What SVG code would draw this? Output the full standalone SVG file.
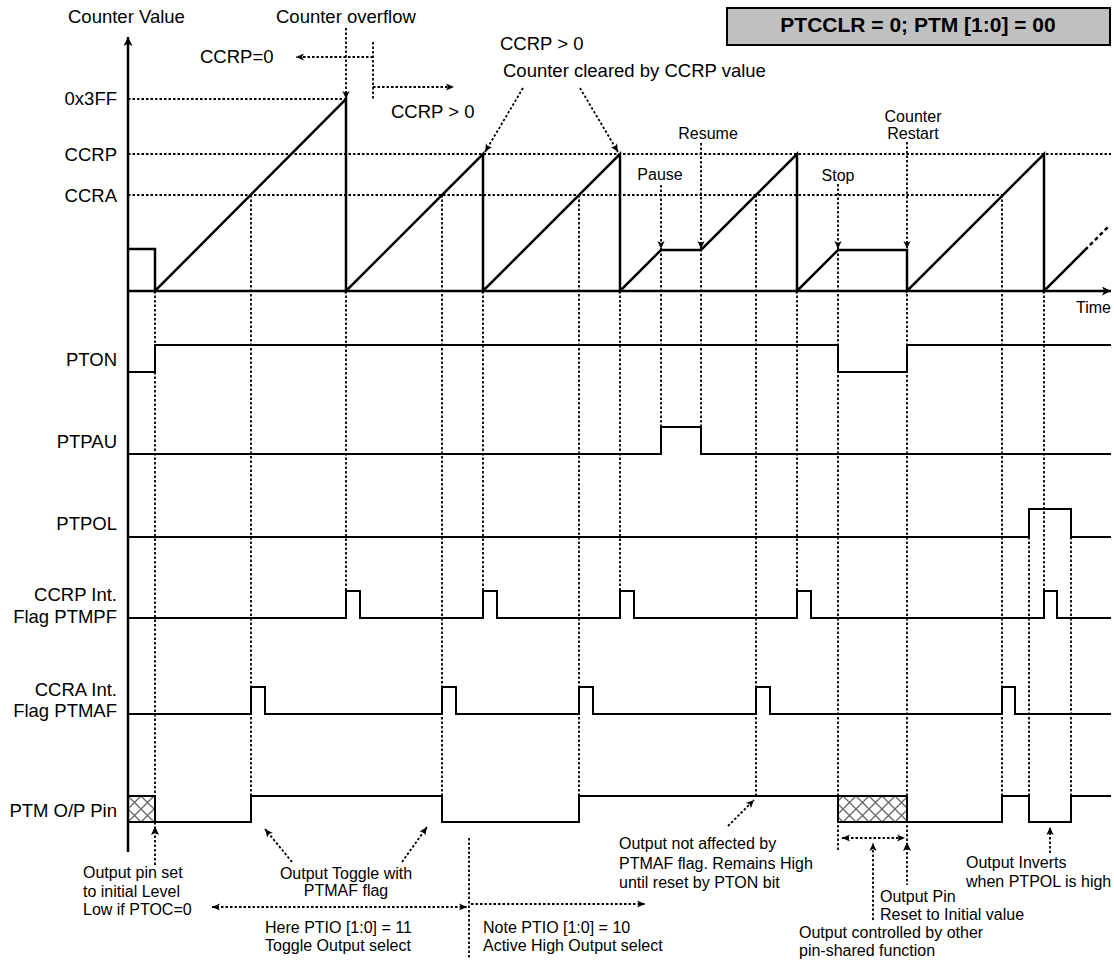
<svg xmlns="http://www.w3.org/2000/svg" width="1114" height="961" viewBox="0 0 1114 961">
<defs>
<style>
text{font-family:"Liberation Sans",Arial,sans-serif;fill:#000}
.l{font-size:18.5px}
.lr{font-size:18.5px;text-anchor:end}
.s{font-size:16px}
.sm{font-size:16px;text-anchor:middle}
.w{fill:none;stroke:#000;stroke-width:2.5;stroke-linejoin:miter}
.g{fill:none;stroke:#000;stroke-width:2}
.d{fill:none;stroke:#000;stroke-width:1.8;stroke-dasharray:2.5 2}
.da{fill:none;stroke:#000;stroke-width:1.8;stroke-dasharray:2.5 2;marker-end:url(#ah)}
.dd{fill:none;stroke:#000;stroke-width:1.8;stroke-dasharray:2.5 2;marker-start:url(#ahs);marker-end:url(#ah)}
.hatch{fill:url(#xh);stroke:#000;stroke-width:2}
</style>
<marker id="ah" viewBox="0 0 10 10" refX="10" refY="5" markerWidth="9" markerHeight="8" markerUnits="userSpaceOnUse" orient="auto"><path d="M0,0.5 L10,5 L0,9.5 L2.5,5 z" fill="#000"/></marker>
<marker id="ahs" viewBox="0 0 10 10" refX="0" refY="5" markerWidth="9" markerHeight="8" markerUnits="userSpaceOnUse" orient="auto"><path d="M10,0.5 L0,5 L10,9.5 L7.5,5 z" fill="#000"/></marker>
<marker id="ax" viewBox="0 0 10 10" refX="10" refY="5" markerWidth="12" markerHeight="9" markerUnits="userSpaceOnUse" orient="auto"><path d="M0,0 L10,5 L0,10 L2.5,5 z" fill="#000"/></marker>
<pattern id="xh" patternUnits="userSpaceOnUse" width="13" height="13" x="128" y="796"><path d="M0,0 L13,13 M13,0 L0,13" stroke="#666" stroke-width="1.3"/></pattern>
</defs>
<rect width="1114" height="961" fill="#fff"/>

<g id="mode-box">
<rect x="727" y="8" width="383" height="37" fill="#c0c0c0" stroke="#000" stroke-width="2"/>
<text x="918" y="32" style="font-size:21px;font-weight:bold;text-anchor:middle">PTCCLR = 0; PTM [1:0] = 00</text>
</g>

<g id="axes">
<line x1="128" y1="852" x2="128" y2="37" stroke="#000" stroke-width="2.5" marker-end="url(#ax)"/>
<line x1="128" y1="291" x2="1111" y2="291" stroke="#000" stroke-width="2.5" marker-end="url(#ax)"/>
<text class="l" x="68" y="23">Counter Value</text>
<text class="s" x="1111" y="313" style="text-anchor:end">Time</text>
<text class="lr" x="117" y="105">0x3FF</text>
<text class="lr" x="117" y="161">CCRP</text>
<text class="lr" x="117" y="202">CCRA</text>
</g>

<g id="counter">
<path class="w" d="M128,249 H155 V291 L346,99 V291 L483,154 V291 L620,154 V291 L661,250 H701 L797,154 V291 L838,250 H907 V291 L1044,154 V291 L1085,250"/>
<path d="M1085,250 L1109,226" fill="none" stroke="#000" stroke-width="2.5" stroke-dasharray="4 3"/>
</g>

<g id="sig-pton">
<text class="lr" x="117" y="366">PTON</text>
<path class="g" d="M128,372 H155 V345 H838 V372 H907 V345 H1111"/>
</g>
<g id="sig-ptpau">
<text class="lr" x="117" y="448">PTPAU</text>
<path class="g" d="M128,454 H661 V427 H701 V454 H1111"/>
</g>
<g id="sig-ptpol">
<text class="lr" x="117" y="530">PTPOL</text>
<path class="g" d="M128,537 H1029 V509 H1071 V537 H1111"/>
</g>
<g id="sig-ptmpf">
<text class="lr" x="117" y="601">CCRP Int.</text>
<text class="lr" x="117" y="623">Flag PTMPF</text>
<path class="g" d="M128,618 H346 V591 H360 V618 H483 V591 H497 V618 H620 V591 H634 V618 H797 V591 H811 V618 H1044 V591 H1057 V618 H1111"/>
</g>
<g id="sig-ptmaf">
<text class="lr" x="117" y="696">CCRA Int.</text>
<text class="lr" x="117" y="717">Flag PTMAF</text>
<path class="g" d="M128,714 H251 V687 H265 V714 H442 V687 H456 V714 H579 V687 H593 V714 H756 V687 H770 V714 H1002 V687 H1015 V714 H1111"/>
</g>
<g id="sig-ptm-pin">
<text class="lr" x="117" y="817">PTM O/P Pin</text>
<rect class="hatch" x="128" y="796" width="27" height="26"/>
<path class="g" d="M155,822 H251 V796 H442 V822 H579 V796 H838"/>
<rect class="hatch" x="838" y="796" width="69" height="26"/>
<path class="g" d="M907,822 H1002 V796 H1029 V822 H1071 V796 H1111"/>
</g>

<g id="connectors">
<line class="d" x1="128" y1="99" x2="346" y2="99"/>
<line class="d" x1="128" y1="154" x2="1111" y2="154"/>
<line class="d" x1="128" y1="195" x2="1002" y2="195"/>
<line class="da" x1="346" y1="28" x2="346" y2="99"/>
<line class="da" x1="373" y1="57" x2="296" y2="57"/>
<line class="d" x1="373" y1="42" x2="373" y2="100"/>
<line class="da" x1="373" y1="87" x2="454" y2="87"/>
<line class="da" x1="523" y1="88" x2="485" y2="152"/>
<line class="da" x1="580" y1="88" x2="618" y2="152"/>
<line class="da" x1="661" y1="185" x2="661" y2="249"/>
<line class="da" x1="701" y1="143" x2="701" y2="249"/>
<line class="da" x1="838" y1="184" x2="838" y2="249"/>
<line class="da" x1="907" y1="142" x2="907" y2="249"/>
<line class="d" x1="155" y1="291" x2="155" y2="865"/>
<line class="d" x1="251" y1="195" x2="251" y2="796"/>
<line class="d" x1="346" y1="291" x2="346" y2="591"/>
<line class="d" x1="442" y1="195" x2="442" y2="796"/>
<line class="d" x1="483" y1="291" x2="483" y2="591"/>
<line class="d" x1="579" y1="195" x2="579" y2="796"/>
<line class="d" x1="620" y1="291" x2="620" y2="591"/>
<line class="d" x1="661" y1="249" x2="661" y2="427"/>
<line class="d" x1="701" y1="249" x2="701" y2="427"/>
<line class="d" x1="756" y1="195" x2="756" y2="796"/>
<line class="d" x1="797" y1="291" x2="797" y2="591"/>
<line class="d" x1="838" y1="249" x2="838" y2="852"/>
<line class="d" x1="907" y1="249" x2="907" y2="885"/>
<line class="d" x1="1002" y1="195" x2="1002" y2="796"/>
<line class="d" x1="1029" y1="537" x2="1029" y2="796"/>
<line class="d" x1="1044" y1="291" x2="1044" y2="591"/>
<line class="d" x1="1071" y1="537" x2="1071" y2="796"/>
<line class="d" x1="469" y1="838" x2="469" y2="958"/>
<path d="M155,826 L151,835 L155,833 L159,835 z" fill="#000"/>
<path d="M907,842 L903,851 L907,849 L911,851 z" fill="#000"/>
<line class="da" x1="873" y1="920" x2="873" y2="843"/>
<line class="dd" x1="842" y1="838" x2="905" y2="838"/>
<line class="da" x1="1050" y1="853" x2="1050" y2="827"/>
<line class="da" x1="292" y1="862" x2="265" y2="829"/>
<line class="da" x1="402" y1="862" x2="427" y2="827"/>
<line class="da" x1="728" y1="826" x2="754" y2="800"/>
<line class="dd" x1="212" y1="907" x2="467" y2="907"/>
<line class="da" x1="471" y1="904" x2="645" y2="904"/>
</g>

<g id="annotations">
<text class="l" x="276" y="23">Counter overflow</text>
<text class="l" x="200" y="63">CCRP=0</text>
<text class="l" x="391" y="118">CCRP &gt; 0</text>
<text class="l" x="500" y="50">CCRP &gt; 0</text>
<text class="l" x="503" y="77">Counter cleared by CCRP value</text>
<text class="sm" x="660" y="180">Pause</text>
<text class="sm" x="708" y="139">Resume</text>
<text class="sm" x="838" y="181">Stop</text>
<text class="sm" x="913" y="122">Counter</text>
<text class="sm" x="913" y="139">Restart</text>
<text class="s" x="83" y="878">Output pin set</text>
<text class="s" x="83" y="897">to initial Level</text>
<text class="s" x="83" y="915">Low if PTOC=0</text>
<text class="sm" x="346" y="879">Output Toggle with</text>
<text class="sm" x="346" y="896">PTMAF flag</text>
<text class="s" x="265" y="933">Here PTIO [1:0] = 11</text>
<text class="s" x="265" y="951">Toggle Output select</text>
<text class="s" x="483" y="933">Note PTIO [1:0] = 10</text>
<text class="s" x="483" y="951">Active High Output select</text>
<text class="s" x="619" y="849">Output not affected by</text>
<text class="s" x="619" y="869">PTMAF flag. Remains High</text>
<text class="s" x="619" y="888">until reset by PTON bit</text>
<text class="s" x="880" y="902">Output Pin</text>
<text class="s" x="880" y="920">Reset to Initial value</text>
<text class="s" x="799" y="938">Output controlled by other</text>
<text class="s" x="799" y="956">pin-shared function</text>
<text class="s" x="966" y="868">Output Inverts</text>
<text class="s" x="966" y="887">when PTPOL is high</text>
</g>
</svg>
